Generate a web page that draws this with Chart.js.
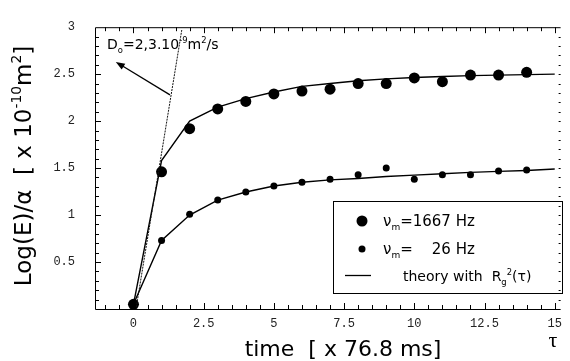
<!DOCTYPE html>
<html>
<head>
<meta charset="utf-8">
<script src="https://cdn.jsdelivr.net/npm/chart.js@4"></script>
<style>
  html, body { margin: 0; padding: 0; background: #fff; }
</style>
</head>
<body>
<canvas id="chart" width="570" height="361"></canvas>
<script>
// ---- data ----
const xTickVals = [0, 2.5, 5, 7.5, 10, 12.5, 15];
const yTickVals = [0.5, 1, 1.5, 2, 2.5, 3];

const times = [0, 1, 2, 3, 4, 5, 6, 7, 8, 9, 10, 11, 12, 13, 14];
const fast = [0.05, 1.46, 1.92, 2.13, 2.21, 2.29, 2.32, 2.34, 2.40, 2.40, 2.46, 2.42, 2.49, 2.49, 2.52];   // 1667 Hz
const slow = [0.05, 0.73, 1.01, 1.16, 1.245, 1.31, 1.35, 1.38, 1.43, 1.50, 1.38, 1.43, 1.43, 1.47, 1.48]; // 26 Hz

const theoryTimes = [0, 1, 2, 3, 4, 5, 6, 7, 8, 9, 10, 11, 12, 13, 14, 15];
const fastTheory = [0.05, 1.58, 2.0, 2.15, 2.24, 2.31, 2.37, 2.40, 2.43, 2.45, 2.465, 2.475, 2.485, 2.49, 2.495, 2.50];
const slowTheory = [0.05, 0.73, 1.0, 1.16, 1.245, 1.31, 1.35, 1.375, 1.39, 1.41, 1.425, 1.44, 1.455, 1.465, 1.475, 1.49];

// free diffusion line D0 = 2,3.10^-9 m2/s
const freeX = [0.1, 1.72];
const freeY = [0.02, 2.97];

// arrow of the D0 note (tail, head) in data units
const arrowX = [1.30, -0.63];
const arrowY = [2.28, 2.63];

const FONT = '"DejaVu Sans"';

const pts = (xs, ys) => xs.map((v, i) => ({ x: v, y: ys[i] }));

function richWidth(ctx, parts, size) {
  let w = 0;
  parts.forEach(p => {
    const s = p.s ? size * 0.6 : size;
    ctx.font = s + 'px ' + FONT;
    w += ctx.measureText(p.t).width;
  });
  return w;
}

function drawRich(ctx, parts, x, y, size) {
  ctx.textAlign = 'left';
  ctx.textBaseline = 'alphabetic';
  parts.forEach(p => {
    const s = p.s ? size * 0.6 : size;
    const dy = p.s === 'sup' ? -size * 0.42 : p.s === 'sub' ? size * 0.25 : 0;
    ctx.font = s + 'px ' + FONT;
    ctx.fillText(p.t, x, y + dy);
    x += ctx.measureText(p.t).width;
  });
  return x;
}

const decor = {
  id: 'decor',
  afterDraw(chart) {
    const { ctx, chartArea: a, scales: { x, y } } = chart;
    ctx.save();
    ctx.strokeStyle = '#000';
    ctx.fillStyle = '#000';
    ctx.lineWidth = 1;

    // frame (no right line, just ticks)
    ctx.beginPath();
    ctx.moveTo(a.right, a.top + 0.5);
    ctx.lineTo(a.left + 0.5, a.top + 0.5);
    ctx.lineTo(a.left + 0.5, a.bottom + 0.5);
    ctx.lineTo(a.right, a.bottom + 0.5);
    ctx.stroke();

    // inward ticks
    ctx.beginPath();
    for (let v = -1; v <= 15.001; v += 0.5) {
      const px = Math.round(x.getPixelForValue(v)) + 0.5;
      const len = Math.abs(v / 2.5 - Math.round(v / 2.5)) < 1e-6 ? 6 : 4;
      ctx.moveTo(px, a.bottom);
      ctx.lineTo(px, a.bottom - len);
      ctx.moveTo(px, a.top);
      ctx.lineTo(px, a.top + len);
    }
    for (let v = 0.1; v < 3; v += 0.1) {
      const py = Math.round(y.getPixelForValue(v)) + 0.5;
      const len = Math.abs(v / 0.5 - Math.round(v / 0.5)) < 1e-6 ? 6 : 4;
      ctx.moveTo(a.left, py);
      ctx.lineTo(a.left + len, py);
      ctx.moveTo(a.right, py);
      ctx.lineTo(a.right - 2, py);
    }
    ctx.stroke();

    // D0 note with arrow
    const tx = x.getPixelForValue(arrowX[0]), ty = y.getPixelForValue(arrowY[0]);
    const hx = x.getPixelForValue(arrowX[1]), hy = y.getPixelForValue(arrowY[1]);
    const ang = Math.atan2(hy - ty, hx - tx);
    ctx.beginPath();
    ctx.moveTo(tx, ty);
    ctx.lineTo(hx - 6 * Math.cos(ang), hy - 6 * Math.sin(ang));
    ctx.lineWidth = 1.3;
    ctx.stroke();
    ctx.beginPath();
    ctx.moveTo(hx, hy);
    ctx.lineTo(hx - 9 * Math.cos(ang) + 3.5 * Math.sin(ang), hy - 9 * Math.sin(ang) - 3.5 * Math.cos(ang));
    ctx.lineTo(hx - 9 * Math.cos(ang) - 3.5 * Math.sin(ang), hy - 9 * Math.sin(ang) + 3.5 * Math.cos(ang));
    ctx.closePath();
    ctx.fill();
    drawRich(ctx, [{ t: 'D' }, { t: 'o', s: 'sub' }, { t: '=2,3.10' }, { t: '-9', s: 'sup' },
                   { t: 'm' }, { t: '2', s: 'sup' }, { t: '/s' }], 107, 49, 14);

    // legend box
    ctx.lineWidth = 1;
    ctx.strokeRect(333.5, 201.5, 229, 92);
    ctx.beginPath(); ctx.arc(362, 221, 5.5, 0, Math.PI * 2); ctx.fill();
    ctx.beginPath(); ctx.arc(362, 249, 3.5, 0, Math.PI * 2); ctx.fill();
    ctx.beginPath(); ctx.moveTo(345, 275.5); ctx.lineTo(371, 275.5); ctx.lineWidth = 1.3; ctx.stroke();
    const end1 = drawRich(ctx, [{ t: 'ν' }, { t: 'm', s: 'sub' }, { t: '=1667 Hz' }], 383, 226, 15);
    drawRich(ctx, [{ t: 'ν' }, { t: 'm', s: 'sub' }, { t: '=' }], 383, 254, 15);
    ctx.font = '15px ' + FONT;
    ctx.textAlign = 'right';
    ctx.fillText('26 Hz', end1, 254);
    drawRich(ctx, [{ t: 'theory with  R' }, { t: 'g', s: 'sub' }, { t: '2', s: 'sup' }, { t: '(τ)' }], 403, 281, 14);

    // x axis title and tau
    ctx.font = '22px ' + FONT;
    ctx.textAlign = 'center';
    ctx.fillText('time  [ x 76.8 ms]', 343, 356);
    ctx.font = '22px "Liberation Serif"';
    ctx.fillText('τ', 553, 347);

    // y axis title
    ctx.translate(31, 166);
    ctx.rotate(-Math.PI / 2);
    const yParts = [{ t: 'Log(E)/α  [ x 10' }, { t: '-10', s: 'sup' }, { t: 'm' }, { t: '2', s: 'sup' }, { t: ']' }];
    const w = richWidth(ctx, yParts, 23);
    drawRich(ctx, yParts, -w / 2, 0, 23);
    ctx.restore();
  }
};

new Chart(document.getElementById('chart'), {
  type: 'scatter',
  data: {
    datasets: [
      { label: 'free', data: pts(freeX, freeY), showLine: true, borderColor: '#111', borderWidth: 1,
        borderDash: [2, 1], pointRadius: 0, fill: false },
      { label: 'theory 1667', data: pts(theoryTimes, fastTheory), showLine: true, borderColor: '#000',
        borderWidth: 1.4, pointRadius: 0, tension: 0 },
      { label: 'theory 26', data: pts(theoryTimes, slowTheory), showLine: true, borderColor: '#000',
        borderWidth: 1.4, pointRadius: 0, tension: 0 },
      { label: '1667 Hz', data: pts(times, fast), pointRadius: 5.5, backgroundColor: '#000',
        borderWidth: 0 },
      { label: '26 Hz', data: pts(times, slow), pointRadius: 3.5, backgroundColor: '#000',
        borderWidth: 0 }
    ]
  },
  options: {
    responsive: false,
    animation: false,
    layout: { padding: { top: 16, right: 2, left: 0, bottom: 0 } },
    plugins: { legend: { display: false }, tooltip: { enabled: false } },
    scales: {
      x: {
        type: 'linear', min: -1.37, max: 15.21,
        grid: { display: false, drawTicks: false },
        border: { display: false },
        afterFit: s => { s.height = 52; },
        afterBuildTicks: s => { s.ticks = xTickVals.map(v => ({ value: v })); },
        ticks: { padding: 8, color: '#222', maxRotation: 0,
                 font: { family: '"Liberation Mono"', size: 12 },
                 callback: v => String(v) }
      },
      y: {
        type: 'linear', min: 0, max: 3,
        grid: { display: false, drawTicks: false },
        border: { display: false },
        afterFit: s => { s.width = 95; },
        afterBuildTicks: s => { s.ticks = yTickVals.map(v => ({ value: v })); },
        ticks: { padding: 20, color: '#222',
                 font: { family: '"Liberation Mono"', size: 12 },
                 callback: v => String(v) }
      }
    }
  },
  plugins: [decor]
});
</script>
</body>
</html>
